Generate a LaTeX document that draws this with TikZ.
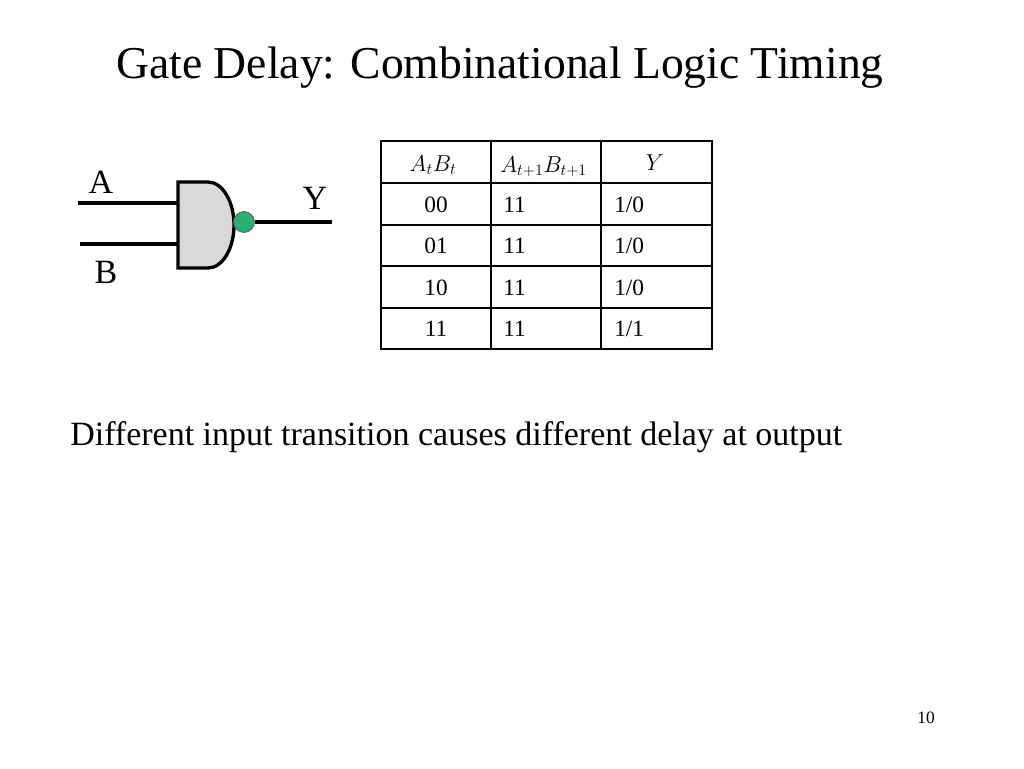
\documentclass[tikz,border=0pt]{standalone}
\usepackage{fontspec}
\setmainfont{Liberation Serif}
\begin{document}
\begin{tikzpicture}[x=0.75pt,y=-0.75pt,
  lbl/.style={inner sep=0pt,font=\fontsize{25.5}{28}\selectfont},
  cell/.style={inner sep=0pt,font=\fontsize{17.5}{20}\selectfont},
  wire/.style={line width=2.5pt}]
\useasboundingbox (0,0) rectangle (1024,768);
\node[inner sep=0pt,font=\fontsize{34.2}{40}\selectfont] (title) at (500,68) {Gate Delay: Combinational Logic Timing};
% gate
\draw[wire,fill=gray!30] (178,182) -- (208,182) arc[start angle=90,end angle=-90,x radius=19.5pt,y radius=32.25pt] -- (178,268) -- cycle;
\coordinate (gA) at (178,203);
\coordinate (gB) at (178,244);
\coordinate (iA) at (78,203);
\coordinate (iB) at (80,244);
\coordinate (oY) at (332,222);
\draw[wire] (iA) -- (gA);
\draw[wire] (iB) -- (gB);
\node[circle,draw=black!60,line width=0.8pt,fill=teal!70!green!85,minimum size=15.5pt,inner sep=0pt] (bub) at (244,222) {};
\draw[wire] (bub.east) -- (oY);
\node[lbl] (A) at (101,182) {A};
\node[lbl] (B) at (106,272) {B};
\node[lbl] (Y) at (315,198) {Y};
% table
\draw[line width=0.9pt] (381,141) rectangle (712,349);
\foreach \x in {491,601} \draw[line width=0.9pt] (\x,141) -- (\x,349);
\foreach \y in {183,225,266,308} \draw[line width=0.9pt] (381,\y) -- (712,\y);
\node[cell,font=\fontsize{17}{20}\selectfont] (h1) at (433,165) {$A_tB_t$};
\node[cell,anchor=west,font=\fontsize{17}{20}\selectfont] (h2) at (500,167) {$A_{t+1}B_{t+1}$};
\node[cell,font=\fontsize{17}{20}\selectfont] (h3) at (655,163) {$Y$};
\node[cell] at (436,205) {00};
\node[cell] at (436,246) {01};
\node[cell] at (436,288) {10};
\node[cell] at (436,329) {11};
\foreach \y in {205,246,288,329} \node[cell,anchor=west] at (503,\y) {11};
\node[cell,anchor=west] at (614,205) {1/0};
\node[cell,anchor=west] at (614,246) {1/0};
\node[cell,anchor=west] at (614,288) {1/0};
\node[cell,anchor=west] at (614,329) {1/1};
\node[lbl,anchor=west] (txt) at (70,437) {Different input transition causes different delay at output};
\node[inner sep=0pt,font=\fontsize{13}{15}\selectfont] (pg) at (926,718) {10};
\end{tikzpicture}
\end{document}
